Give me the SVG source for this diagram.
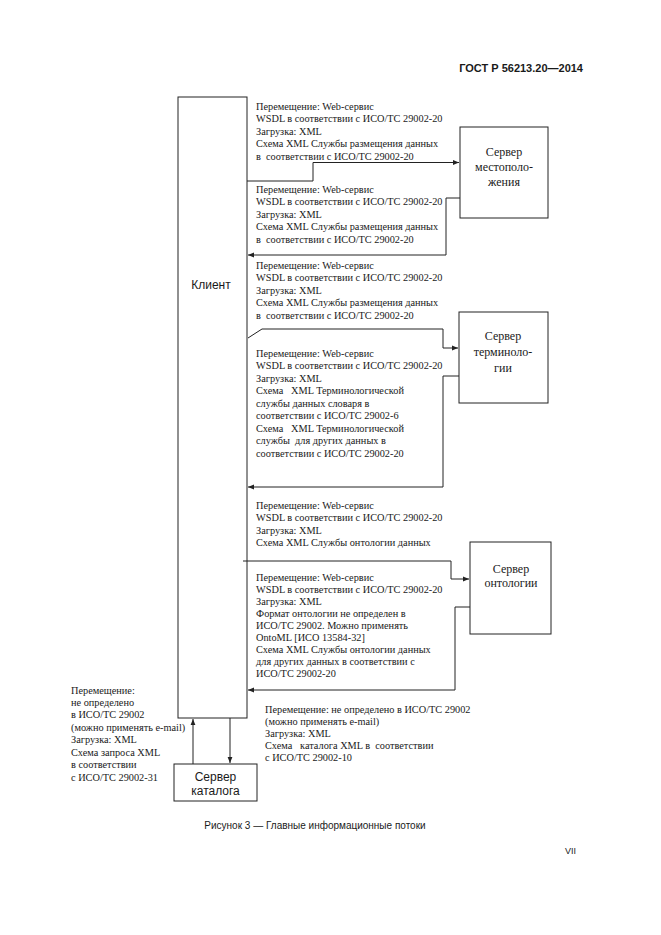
<svg xmlns="http://www.w3.org/2000/svg" width="661" height="935" viewBox="0 0 661 935" xml:space="preserve">
<style>
.t{font-family:"Liberation Serif","Times New Roman",serif;font-size:10.3px;fill:#1a1a1a;white-space:pre}
.n{font-family:"Liberation Serif","Times New Roman",serif;font-size:12px;fill:#1a1a1a;text-anchor:middle}
.s{font-family:"Liberation Sans",Arial,sans-serif;fill:#1a1a1a}
.box{fill:#fff;stroke:#222;stroke-width:1}
.c{fill:none;stroke:#222;stroke-width:1}
</style>
<defs>
<marker id="ah" viewBox="0 0 10 10" refX="10" refY="5" markerWidth="6" markerHeight="6" orient="auto" markerUnits="userSpaceOnUse">
<path d="M0,1 L10,5 L0,9 z" fill="#222"/>
</marker>
</defs>
<rect width="661" height="935" fill="#fff"/>
<text class="s" x="583" y="72" font-size="11" font-weight="bold" text-anchor="end">ГОСТ Р 56213.20—2014</text>

<g id="client">
<rect class="box" x="178" y="97" width="69" height="621"/>
<text class="s" x="211" y="289" font-size="12" text-anchor="middle">Клиент</text>
</g>
<g id="server-location">
<rect class="box" x="460" y="127" width="88" height="91"/>
<text class="n" x="504" y="156">Сервер</text>
<text class="n" x="504" y="171">местополо-</text>
<text class="n" x="504" y="186">жения</text>
</g>
<g id="server-terminology">
<rect class="box" x="459" y="312" width="89" height="91"/>
<text class="n" x="503" y="340">Сервер</text>
<text class="n" x="503" y="356">терминоло-</text>
<text class="n" x="503" y="372">гии</text>
</g>
<g id="server-ontology">
<rect class="box" x="470" y="542" width="81" height="92"/>
<text class="n" x="511" y="573">Сервер</text>
<text class="n" x="511" y="587">онтологии</text>
</g>
<g id="server-catalog">
<rect class="box" x="174" y="764" width="83" height="37"/>
<text class="s" x="215.5" y="781" font-size="12" text-anchor="middle">Сервер</text>
<text class="s" x="215.5" y="795" font-size="12" text-anchor="middle">каталога</text>
</g>

<g id="connectors">
<polyline class="c" points="247,181 313,181 313,162.5 459,162.5" marker-end="url(#ah)"/>
<polyline class="c" points="460,198 446,198 446,255 248,255" marker-end="url(#ah)"/>
<polyline class="c" points="248,338 262,329 443,329 443,348 458,348" marker-end="url(#ah)"/>
<polyline class="c" points="459,376 443,376 443,487 248,487" marker-end="url(#ah)"/>
<polyline class="c" points="243,561 451,561 451,579 469,579" marker-end="url(#ah)"/>
<polyline class="c" points="470,607 455,607 455,690 248,690" marker-end="url(#ah)"/>
<line class="c" x1="193" y1="764" x2="193" y2="719" marker-end="url(#ah)"/>
<line class="c" x1="230" y1="718" x2="230" y2="763" marker-end="url(#ah)"/>
</g>

<g id="labels">
<text class="t" x="256" y="109.5">Перемещение: Web-сервис</text>
<text class="t" x="256" y="122">WSDL в соответствии с ИСО/ТС 29002-20</text>
<text class="t" x="256" y="134.5">Загрузка: XML</text>
<text class="t" x="256" y="147">Схема XML Службы размещения данных</text>
<text class="t" x="256" y="159.5">в  соответствии с ИСО/ТС 29002-20</text>

<text class="t" x="256" y="192.5">Перемещение: Web-сервис</text>
<text class="t" x="256" y="205">WSDL в соответствии с ИСО/ТС 29002-20</text>
<text class="t" x="256" y="217.5">Загрузка: XML</text>
<text class="t" x="256" y="230">Схема XML Службы размещения данных</text>
<text class="t" x="256" y="242.5">в  соответствии с ИСО/ТС 29002-20</text>

<text class="t" x="256" y="268.5">Перемещение: Web-сервис</text>
<text class="t" x="256" y="281">WSDL в соответствии с ИСО/ТС 29002-20</text>
<text class="t" x="256" y="293.5">Загрузка: XML</text>
<text class="t" x="256" y="306">Схема XML Службы размещения данных</text>
<text class="t" x="256" y="318.5">в  соответствии с ИСО/ТС 29002-20</text>

<text class="t" x="256" y="356.5">Перемещение: Web-сервис</text>
<text class="t" x="256" y="369">WSDL в соответствии с ИСО/ТС 29002-20</text>
<text class="t" x="256" y="381.5">Загрузка: XML</text>
<text class="t" x="256" y="394">Схема   XML Терминологической</text>
<text class="t" x="256" y="406.5">службы данных словаря в</text>
<text class="t" x="256" y="419">соответствии с ИСО/ТС 29002-6</text>
<text class="t" x="256" y="431.5">Схема   XML Терминологической</text>
<text class="t" x="256" y="444">службы  для других данных в</text>
<text class="t" x="256" y="456.5">соответствии с ИСО/ТС 29002-20</text>

<text class="t" x="256" y="508.5">Перемещение: Web-сервис</text>
<text class="t" x="256" y="521">WSDL в соответствии с ИСО/ТС 29002-20</text>
<text class="t" x="256" y="533.5">Загрузка: XML</text>
<text class="t" x="256" y="546">Схема XML Службы онтологии данных</text>

<text class="t" x="256" y="580.5">Перемещение: Web-сервис</text>
<text class="t" x="256" y="592.5">WSDL в соответствии с ИСО/ТС 29002-20</text>
<text class="t" x="256" y="604.5">Загрузка: XML</text>
<text class="t" x="256" y="616.5">Формат онтологии не определен в</text>
<text class="t" x="256" y="628.5">ИСО/ТС 29002. Можно применять</text>
<text class="t" x="256" y="640.5">OntoML [ИСО 13584-32]</text>
<text class="t" x="256" y="652.5">Схема XML Службы онтологии данных</text>
<text class="t" x="256" y="664.5">для других данных в соответствии с</text>
<text class="t" x="256" y="676.5">ИСО/ТС 29002-20</text>

<text class="t" x="71" y="693.5">Перемещение:</text>
<text class="t" x="71" y="706">не определено</text>
<text class="t" x="71" y="718">в ИСО/ТС 29002</text>
<text class="t" x="71" y="730.5">(можно применять e-mail)</text>
<text class="t" x="71" y="743">Загрузка: XML</text>
<text class="t" x="71" y="755.5">Схема запроса XML</text>
<text class="t" x="71" y="768">в соответствии</text>
<text class="t" x="71" y="780.5">с ИСО/ТС 29002-31</text>

<text class="t" x="265" y="712.5">Перемещение: не определено в ИСО/ТС 29002</text>
<text class="t" x="265" y="724.5">(можно применять e-mail)</text>
<text class="t" x="265" y="736.5">Загрузка: XML</text>
<text class="t" x="265" y="748.5">Схема   каталога XML в  соответствии</text>
<text class="t" x="265" y="760.5">с ИСО/ТС 29002-10</text>
</g>

<text class="s" x="315" y="829" font-size="10" text-anchor="middle">Рисунок 3 — Главные информационные потоки</text>
<text class="s" x="570.5" y="854" font-size="9" text-anchor="middle">VII</text>
</svg>
